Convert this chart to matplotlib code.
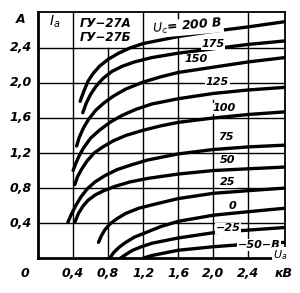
import matplotlib
matplotlib.use("Agg")
import matplotlib.pyplot as plt

# Anode current Ia (A) vs anode voltage Ua (kV), one curve per grid voltage Uc (V)
grid_voltages = ["200", "175", "150", "125", "100", "75", "50", "25", "0", "-25", "-50"]

ua_200 = [0.48, 0.52, 0.57, 0.63, 0.70, 0.80, 0.92, 1.05, 1.20, 1.40, 1.60, 2.00, 2.40, 2.82]
ia_200 = [1.79, 1.90, 2.02, 2.11, 2.19, 2.27, 2.34, 2.40, 2.45, 2.49, 2.53, 2.59, 2.64, 2.70]
ua_175 = [0.51, 0.55, 0.60, 0.66, 0.74, 0.84, 0.96, 1.10, 1.30, 1.60, 2.00, 2.40, 2.82]
ia_175 = [1.66, 1.77, 1.87, 1.96, 2.05, 2.13, 2.19, 2.24, 2.29, 2.34, 2.39, 2.44, 2.48]
ua_150 = [0.44, 0.47, 0.52, 0.58, 0.66, 0.75, 0.86, 1.00, 1.20, 1.40, 1.60, 2.00, 2.40, 2.82]
ia_150 = [1.28, 1.38, 1.49, 1.59, 1.69, 1.77, 1.85, 1.93, 2.01, 2.07, 2.12, 2.18, 2.24, 2.29]
ua_125 = [0.40, 0.43, 0.47, 0.52, 0.60, 0.70, 0.82, 0.96, 1.12, 1.30, 1.60, 2.00, 2.40, 2.82]
ia_125 = [1.00, 1.08, 1.17, 1.26, 1.37, 1.46, 1.55, 1.63, 1.70, 1.76, 1.82, 1.88, 1.92, 1.95]
ua_100 = [0.42, 0.45, 0.50, 0.56, 0.64, 0.74, 0.86, 1.00, 1.20, 1.40, 1.60, 2.00, 2.40, 2.82]
ia_100 = [0.84, 0.93, 1.02, 1.11, 1.20, 1.27, 1.34, 1.40, 1.46, 1.51, 1.55, 1.60, 1.64, 1.67]
ua_75 = [0.34, 0.38, 0.43, 0.49, 0.56, 0.65, 0.76, 0.90, 1.05, 1.25, 1.60, 2.00, 2.40, 2.82]
ia_75 = [0.41, 0.50, 0.60, 0.70, 0.79, 0.87, 0.94, 1.01, 1.06, 1.12, 1.19, 1.24, 1.27, 1.29]
ua_50 = [0.42, 0.46, 0.51, 0.57, 0.65, 0.75, 0.88, 1.05, 1.25, 1.60, 2.00, 2.40, 2.82]
ia_50 = [0.41, 0.51, 0.59, 0.66, 0.72, 0.77, 0.82, 0.87, 0.91, 0.96, 1.00, 1.02, 1.04]
ua_25 = [0.69, 0.72, 0.76, 0.82, 0.90, 1.00, 1.15, 1.35, 1.60, 2.00, 2.40, 2.82]
ia_25 = [0.18, 0.25, 0.32, 0.39, 0.45, 0.51, 0.57, 0.62, 0.68, 0.74, 0.77, 0.80]
ua_0 = [0.82, 0.86, 0.92, 1.00, 1.10, 1.25, 1.40, 1.60, 2.00, 2.40, 2.82]
ia_0 = [0.00, 0.06, 0.12, 0.18, 0.24, 0.30, 0.36, 0.42, 0.49, 0.53, 0.57]
ua_m25 = [0.94, 1.00, 1.08, 1.18, 1.30, 1.45, 1.60, 2.00, 2.40, 2.82]
ia_m25 = [0.00, 0.04, 0.09, 0.13, 0.17, 0.20, 0.23, 0.29, 0.32, 0.35]
ua_m50 = [1.20, 1.30, 1.45, 1.60, 2.00, 2.40, 2.82]
ia_m50 = [0.00, 0.03, 0.06, 0.09, 0.13, 0.16, 0.18]

curves = [(ua_200, ia_200), (ua_175, ia_175), (ua_150, ia_150), (ua_125, ia_125),
          (ua_100, ia_100), (ua_75, ia_75), (ua_50, ia_50), (ua_25, ia_25),
          (ua_0, ia_0), (ua_m25, ia_m25), (ua_m50, ia_m50)]

# where each curve label sits (Ua, Ia)
label_pos = [None, (2.00, 2.44), (1.80, 2.27), (2.05, 2.01), (2.12, 1.71), (2.15, 1.38),
             (2.17, 1.12), (2.17, 0.87), (2.22, 0.60), (2.17, 0.34), None]

x_ticks = [0.4, 0.8, 1.2, 1.6, 2.0, 2.4]
y_ticks = [0.4, 0.8, 1.2, 1.6, 2.0, 2.4]

plt.rcParams['font.family'] = ['DejaVu Sans']
txt = dict(style='italic', weight='bold', color='black')

fig = plt.figure(figsize=(3.0, 2.93), dpi=100)
ax = fig.add_axes([0.127, 0.119, 0.823, 0.840])
ax.set_xlim(0, 2.82)
ax.set_ylim(0, 2.81)
ax.set_xticks([])
ax.set_yticks([])
for side in ['left', 'bottom']:
    ax.spines[side].set_linewidth(2.0)
for side in ['top', 'right']:
    ax.spines[side].set_linewidth(1.3)

# grid
for y in y_ticks:
    ax.axhline(y, color='black', lw=1.0, zorder=1)
for x in x_ticks:
    if x == 0.8:
        ax.plot([x, x], [0, 2.4], color='black', lw=1.0, zorder=1)
    elif x == 2.0:
        ax.plot([x, x], [0, 1.81], color='black', lw=1.0, zorder=1)
    else:
        ax.axvline(x, color='black', lw=1.0, zorder=1)

for (ua, ia) in curves:
    ax.plot(ua, ia, color='black', lw=2.4, solid_capstyle='round', solid_joinstyle='round',
            zorder=3)

box = dict(facecolor='white', edgecolor='none', pad=0.5)
for lab, pos in zip(grid_voltages, label_pos):
    if pos is None:
        continue
    ax.text(pos[0], pos[1], lab.replace('-', '\u2212'), fontsize=8, ha='center', va='center',
            bbox=box, zorder=4, **txt)
ax.text(2.52, 0.15, '\u221250\u2212B', fontsize=8, ha='center', va='center', bbox=box, zorder=4, **txt)
ax.text(2.76, 0.04, r'$U_a$', fontsize=8, ha='center', va='center', bbox=box, zorder=4,
        color='black')

# header texts
ax.text(0.19, 2.70, r'$I_a$', fontsize=10, ha='center', va='center', color='black')
ax.text(0.47, 2.68, '\u0413\u0423\u221227\u0410', fontsize=8.5, ha='left', va='center', **txt)
ax.text(0.47, 2.52, '\u0413\u0423\u221227\u0411', fontsize=8.5, ha='left', va='center', **txt)
ax.text(1.30, 2.64, r'$U_c$' + '= 200 B', fontsize=9, ha='left', va='center',
        rotation=5, bbox=box, zorder=4, **txt)

# tick labels
for x in x_ticks:
    ax.text(x, -0.17, ('%.1f' % x).replace('.', ','), fontsize=9, ha='center', va='center',
            clip_on=False, **txt)
ax.text(-0.15, -0.17, '0', fontsize=9, ha='center', va='center', clip_on=False, **txt)
ax.text(2.80, -0.17, '\u043a\u0412', fontsize=9, ha='center', va='center', clip_on=False, **txt)
for y in y_ticks:
    ax.text(-0.07, y, ('%.1f' % y).replace('.', ','), fontsize=9, ha='right', va='center',
            clip_on=False, **txt)
ax.text(-0.20, 2.73, 'A', fontsize=9, ha='center', va='center', clip_on=False, **txt)

fig.savefig('out.png', dpi=100)
